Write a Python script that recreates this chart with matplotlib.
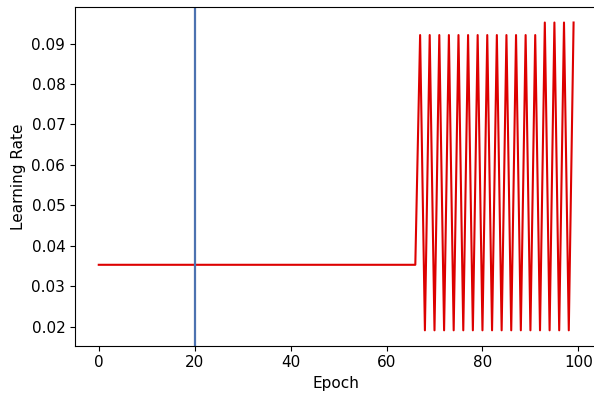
import numpy as np
import matplotlib
matplotlib.use("Agg")
import matplotlib.pyplot as plt

# learning rate per epoch
flat_lr = 0.0353
flat_epochs = 67          # epochs 0..66 sit at the flat value
low_lr = 0.0191
high_lr = [0.0921] * 13 + [0.0952] * 4   # peaks at odd epochs 67..99
marker_epoch = 20

lr = [flat_lr] * flat_epochs
for i, peak in enumerate(high_lr):
    lr.append(peak)
    if i < len(high_lr) - 1:
        lr.append(low_lr)
epochs = np.arange(len(lr))

fig = plt.figure(figsize=(5.94, 3.96), dpi=100)
ax = fig.add_subplot(111)
# the reference is cropped on the right, so the axes run past the edge
fig.subplots_adjust(left=0.1263, right=1.0056, top=0.982, bottom=0.127)

ax.plot(epochs, lr, color="#dd0000", linewidth=1.5)
ax.axvline(marker_epoch, color="#4c72b0", linewidth=1.6)

ax.set_xlabel("Epoch", fontsize=11)
ax.set_ylabel("Learning Rate", fontsize=11)
ax.set_xticks([0, 20, 40, 60, 80, 100])
ax.set_yticks([0.02, 0.03, 0.04, 0.05, 0.06, 0.07, 0.08, 0.09])
ax.tick_params(labelsize=11)

fig.savefig("out.png", dpi=100)
